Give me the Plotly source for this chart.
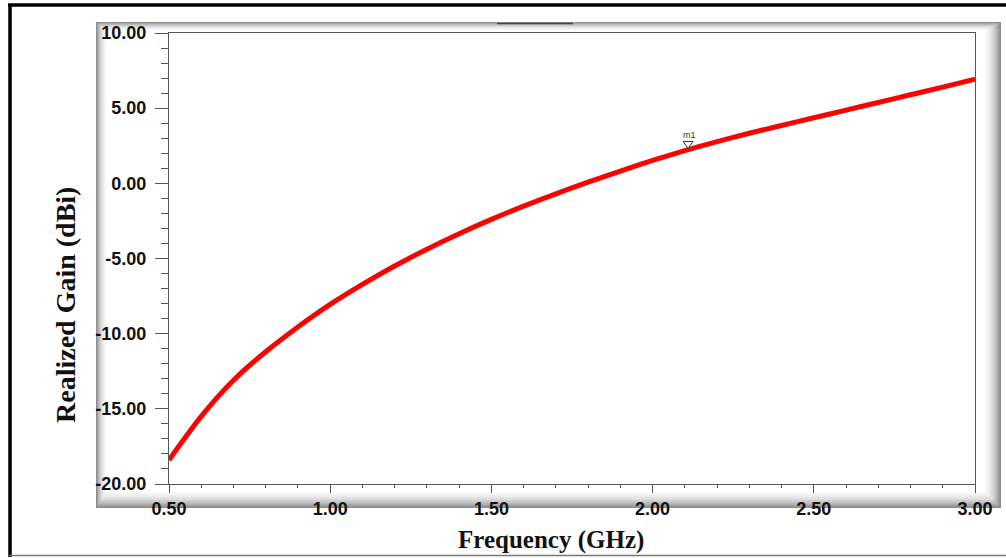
import plotly.graph_objects as go

# ---- data ----
freq_ghz = [0.50, 0.60, 0.70, 0.80, 0.90, 1.00, 1.10, 1.20, 1.30, 1.40,
            1.50, 1.60, 1.70, 1.80, 1.90, 2.00, 2.10, 2.20, 2.30, 2.40, 2.50,
            2.60, 2.70, 2.80, 2.90, 3.00]
gain_dbi = [-18.4, -15.5, -13.1, -11.2, -9.55, -8.05, -6.72, -5.5, -4.38, -3.35,
            -2.4, -1.52, -0.7, 0.08, 0.82, 1.52, 2.18, 2.78, 3.33, 3.85, 4.36,
            4.87, 5.38, 5.89, 6.4, 6.92]
marker_name = ["m1"]
marker_freq = [2.11]
marker_gain = [2.22]
x_ticks = [0.5, 1.0, 1.5, 2.0, 2.5, 3.0]
y_ticks = [-20, -15, -10, -5, 0, 5, 10]
x_title = "Frequency (GHz)"
y_title = "Realized Gain (dBi)"

W, H = 1006, 558
L, R, T, B = 169, 975, 33, 484   # plot area in pixels


def px(x):
    return (x - L) / (R - L)


def py(y):
    return (B - y) / (B - T)


fig = go.Figure()
fig.add_trace(go.Scatter(
    x=freq_ghz, y=gain_dbi, mode="lines",
    line=dict(color="#ff0000", width=5, shape="spline", smoothing=0.8),
    showlegend=False, hoverinfo="x+y"))

shapes = []
# bevelled panel (nested rectangles, grey to white)
grays = [140, 160, 178, 194, 207, 218, 228, 236, 243, 249, 253, 255]
for i, g in enumerate(grays):
    c = f"rgb({g},{g},{g})"
    shapes.append(dict(type="rect", xref="paper", yref="paper",
                       x0=px(96 + i), x1=px(1001 - i * 1.6),
                       y0=py(22 + i * 0.8), y1=py(508 - i * 1.6),
                       fillcolor=c, line=dict(width=0), layer="below"))
# small legend remnant line at top
shapes.append(dict(type="line", xref="paper", yref="paper",
                   x0=px(497), x1=px(573), y0=py(23.5), y1=py(23.5),
                   line=dict(color="#444", width=1.5)))
# outer black frame
shapes.append(dict(type="line", xref="paper", yref="paper",
                   x0=px(8), x1=px(1006), y0=py(5), y1=py(5),
                   line=dict(color="#000", width=3.5)))
shapes.append(dict(type="line", xref="paper", yref="paper",
                   x0=px(10), x1=px(10), y0=py(4), y1=py(557),
                   line=dict(color="#000", width=3.5)))
shapes.append(dict(type="line", xref="paper", yref="paper",
                   x0=px(9), x1=px(1006), y0=py(555.5), y1=py(555.5),
                   line=dict(color="#777", width=1.5)))
# marker triangle m1
for mx, my in zip(marker_freq, marker_gain):
    shapes.append(dict(type="path", xref="x", yref="y",
                       xsizemode="pixel", ysizemode="pixel",
                       xanchor=mx, yanchor=my,
                       path="M-5,8.5 L5,8.5 L0,1.5 Z",
                       line=dict(color="#333", width=1), fillcolor="rgba(255,255,255,0.9)"))

annotations = []
for name, mx, my in zip(marker_name, marker_freq, marker_gain):
    annotations.append(dict(x=mx, y=my, xref="x", yref="y", text=name,
                            showarrow=False, yshift=15, xshift=1,
                            font=dict(family="Liberation Sans, Arial", size=9, color="#333")))
annotations.append(dict(x=px(551), y=py(540), xref="paper", yref="paper",
                        xanchor="center", yanchor="middle",
                        text=f"<b>{x_title}</b>", showarrow=False,
                        font=dict(family="Liberation Serif, Times New Roman", size=25, color="#111")))
annotations.append(dict(x=px(66), y=py(305), xref="paper", yref="paper",
                        xanchor="center", yanchor="middle",
                        text=f"<b>{y_title}</b>", showarrow=False, textangle=-90,
                        font=dict(family="Liberation Serif, Times New Roman", size=28, color="#111")))

tickfont = dict(family="Liberation Sans, Arial", size=18, color="#111")

fig.update_layout(
    width=W, height=H,
    margin=dict(l=L, r=W - R, t=T, b=H - B, pad=0),
    paper_bgcolor="white", plot_bgcolor="white",
    shapes=shapes, annotations=annotations,
    xaxis=dict(range=[0.5, 3.0], tickvals=x_ticks,
               ticktext=[f"<b>{v:.2f}</b>" for v in x_ticks],
               showgrid=False, zeroline=False, showline=True, linecolor="#555",
               linewidth=1.2, mirror=True, ticks="outside", ticklen=8, tickwidth=1.2,
               tickcolor="#555", tickfont=tickfont,
               minor=dict(dtick=0.1, ticks="outside", ticklen=3, tickwidth=1, tickcolor="#555")),
    yaxis=dict(range=[-20, 10], tickvals=y_ticks,
               ticktext=[f"<b>{v:.2f}</b>" for v in y_ticks],
               showgrid=False, zeroline=False, showline=True, linecolor="#555",
               linewidth=1.2, mirror=True, ticks="outside", ticklen=13, tickwidth=1.2,
               tickcolor="#555", tickfont=tickfont, ticklabelstandoff=5,
               minor=dict(dtick=1, ticks="outside", ticklen=7, tickwidth=1, tickcolor="#555")),
)

fig.write_html("out.html", config={"displayModeBar": False},
               post_script="document.body.style.margin='0px';document.body.style.overflow='hidden';")
